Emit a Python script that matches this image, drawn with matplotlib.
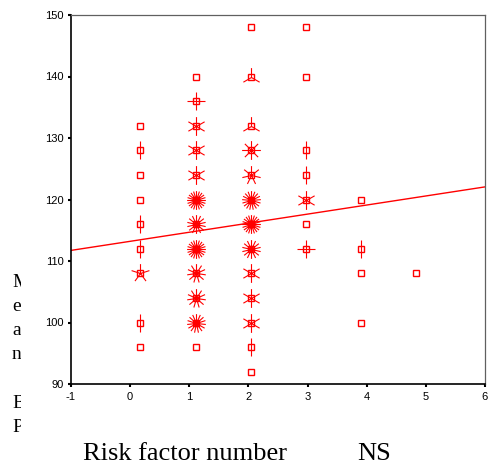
import numpy as np
import matplotlib.pyplot as plt
from matplotlib.path import Path
from matplotlib.transforms import Bbox, TransformedBbox

plt.rcParams['axes.unicode_minus'] = False

# sunflower plot: each column = risk factor bin, (BP value, count)
col_x = [0.17, 1.11, 2.04, 2.97, 3.91, 4.84]

bp_0 = [132, 128, 124, 120, 116, 112, 108, 100, 96]
n_0 = [1, 2, 1, 1, 2, 2, 5, 2, 1]
bp_1 = [140, 136, 132, 128, 124, 120, 116, 112, 108, 104, 100, 96]
n_1 = [1, 4, 6, 6, 6, 20, 14, 20, 11, 11, 15, 1]
bp_2 = [148, 140, 132, 128, 124, 120, 116, 112, 108, 104, 100, 96, 92]
n_2 = [1, 3, 3, 8, 7, 17, 20, 14, 6, 6, 6, 2, 1]
bp_3 = [148, 140, 128, 124, 120, 116, 112]
n_3 = [1, 1, 2, 2, 6, 1, 4]
bp_4 = [120, 112, 108, 100]
n_4 = [1, 2, 1, 1]
bp_5 = [108]
n_5 = [1]

columns = [(bp_0, n_0), (bp_1, n_1), (bp_2, n_2), (bp_3, n_3), (bp_4, n_4), (bp_5, n_5)]

# fit line
fit_intercept = 113.2
fit_slope = 1.475

RED = '#ff0000'


def petal_marker(n):
    verts, codes = [], []
    for k in range(n):
        a = np.pi / 2 + 2 * np.pi * k / n
        verts += [(0, 0), (np.cos(a), np.sin(a))]
        codes += [Path.MOVETO, Path.LINETO]
    return Path(verts, codes)


fig = plt.figure(figsize=(4.89, 4.68), dpi=100)
ax = fig.add_axes([71 / 489, 1 - 384 / 468, 414 / 489, 369 / 468])

for cx, (bps, counts) in zip(col_x, columns):
    for bp, n in zip(bps, counts):
        if n >= 2:
            ax.plot([cx], [bp], linestyle='none', marker=petal_marker(n),
                    markersize=13.5, markeredgecolor=RED, markeredgewidth=0.8)
        ax.plot([cx], [bp], linestyle='none', marker='s', markersize=4.9,
                markerfacecolor='none', markeredgecolor=RED, markeredgewidth=1.0)

xs = np.array([-1, 6])
ax.plot(xs, fit_intercept + fit_slope * xs, color=RED, lw=1.0)

ax.set_xlim(-1, 6)
ax.set_ylim(90, 150)
ax.set_xticks(range(-1, 7))
ax.set_yticks(range(90, 151, 10))
for lab in ax.get_xticklabels() + ax.get_yticklabels():
    lab.set_family('Liberation Sans')
    lab.set_fontsize(8)
ax.tick_params(direction='out', length=2.5, width=1.5, color='black', pad=3)

for s in ['left', 'bottom']:
    ax.spines[s].set_linewidth(1.2)
    ax.spines[s].set_color('black')
for s in ['top', 'right']:
    ax.spines[s].set_linewidth(0.9)
    ax.spines[s].set_color('#606060')

# y label, partly hidden at its right side like the source image
t = fig.text(12 / 489, 1 - 274 / 468, "M\ne\na\nn\n\nB\nP", family='Liberation Serif',
             fontsize=14, va='top', ha='left', linespacing=1.55)
t.set_clip_on(True)
t.set_clip_box(TransformedBbox(Bbox([[0, 0], [21 / 489, 1]]), fig.transFigure))

fig.text(83 / 489, 1 - 460 / 468, "Risk factor number", family='Liberation Serif',
         fontsize=19, va='baseline', ha='left')
fig.text(357 / 489, 1 - 460 / 468, "NS", family='Liberation Serif',
         fontsize=19, va='baseline', ha='left')

fig.savefig('out.png', dpi=100)
